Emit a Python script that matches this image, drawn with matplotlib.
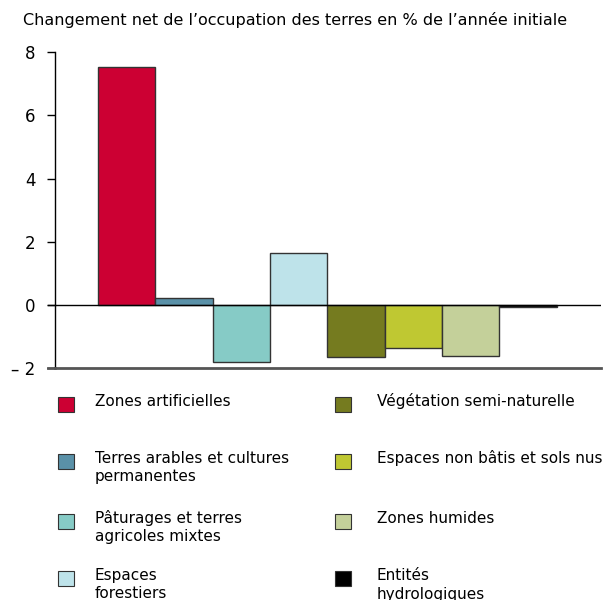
import matplotlib
matplotlib.use("Agg")
import matplotlib.pyplot as plt
from matplotlib.patches import Rectangle

categories = ["Zones artificielles", "Terres arables et cultures\npermanentes",
              "Pâturages et terres\nagricoles mixtes", "Espaces\nforestiers",
              "Végétation semi-naturelle", "Espaces non bâtis et sols nus",
              "Zones humides", "Entités\nhydrologiques"]
values = [7.52, 0.21, -1.81, 1.63, -1.65, -1.37, -1.61, -0.05]
colors = ["#CC0033", "#5A91A8", "#86CBC6", "#BEE3EA",
          "#757B1F", "#BFC832", "#C4D09A", "#000000"]
yticks = [-2, 0, 2, 4, 6, 8]
yticklabels = ["– 2", "0", "2", "4", "6", "8"]
title = "Changement net de l’occupation des terres en % de l’année initiale"

plt.rcParams['font.family'] = ['DejaVu Sans']
fig = plt.figure(figsize=(6.15, 6.0), dpi=100)
ax = fig.add_axes([55/615, 1-368.3/600, (601-55)/615, (368.3-52)/600])

x = list(range(len(values)))
ax.bar(x, values, width=1.0, color=colors, edgecolor="#333333", linewidth=1.0, zorder=2)
ax.set_xlim(-1.25, 8.27)
ax.set_ylim(-2, 8)
ax.set_yticks(yticks)
ax.set_yticklabels(yticklabels, fontsize=12)
ax.set_xticks([])
ax.axhline(0, color="black", linewidth=1.0, zorder=3)
for s in ["top", "right"]:
    ax.spines[s].set_visible(False)
ax.spines["left"].set_color("black")
ax.spines["left"].set_linewidth(1.0)
ax.spines["bottom"].set_color("#555555")
ax.spines["bottom"].set_linewidth(2.0)
ax.tick_params(axis="y", direction="out", length=6, width=1.0, pad=8, colors="black")
ax.plot([-1.25 - 0.13, -1.25], [0, 0], color="black", lw=1.0, clip_on=False)
ax.plot([-1.25 - 0.13, -1.25], [-2, -2], color="#555555", lw=2.0, clip_on=False)

fig.text(23/615, 1-25/600, title, fontsize=11.5, va="baseline", ha="left")

# legend
col_sq_x = [58, 335]
col_tx_x = [95, 377]
row_base = [406, 463, 523, 580]
line_gap = 18.5
for i, (lab, c) in enumerate(zip(categories, colors)):
    col = i // 4
    row = i % 4
    base = row_base[row]
    sqtop = base - 9
    sq = Rectangle((col_sq_x[col]/615, 1-(sqtop+15)/600), 16/615, 15/600,
                   transform=fig.transFigure, facecolor=c, edgecolor="#333333", lw=0.8)
    fig.patches.append(sq)
    for k, line in enumerate(lab.split("\n")):
        fig.text(col_tx_x[col]/615, 1-(base + k*line_gap)/600, line, fontsize=11,
                 va="baseline", ha="left")

fig.savefig("out.png", dpi=100)
